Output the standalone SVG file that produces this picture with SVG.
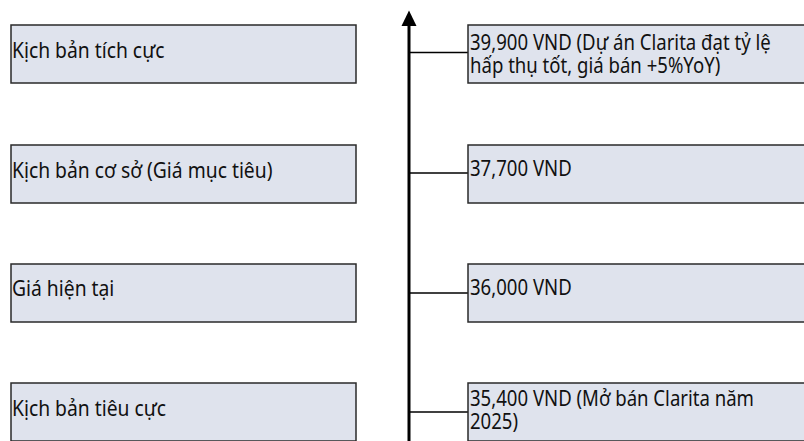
<svg xmlns="http://www.w3.org/2000/svg" width="804" height="441" viewBox="0 0 804 441">
<defs>
<style>
.box{fill:#dfe3ed;stroke:#2a2a2a;stroke-width:1.5}
.t{font-family:"Noto Sans","Open Sans",sans-serif;fill:#111}
.tl{font-size:22px}
.tr{font-size:21px}
.c{stroke:#000;stroke-width:1.5;fill:none}
.ax{stroke:#000;stroke-width:3;fill:none}
</style>
</defs>
<rect width="804" height="441" fill="#fff"/>
<g id="connectors">
<line class="ax" x1="409" y1="441" x2="409" y2="24"/>
<polygon points="409,10.5 401.5,26 416.5,26" fill="#000"/>
<line class="c" x1="409" y1="52.5" x2="468" y2="52.5"/>
<line class="c" x1="409" y1="173" x2="468" y2="173"/>
<line class="c" x1="409" y1="293" x2="468" y2="293"/>
<line class="c" x1="409" y1="412" x2="468" y2="412"/>
</g>
<g id="l1"><rect class="box" x="11" y="25" width="345" height="58"/><text class="t tl" transform="translate(12,58) scale(0.877,1)">Kịch bản tích cực</text></g>
<g id="l2"><rect class="box" x="11" y="145" width="345" height="58"/><text class="t tl" transform="translate(12,178) scale(0.877,1)">Kịch bản cơ sở (Giá mục tiêu)</text></g>
<g id="l3"><rect class="box" x="11" y="264" width="345" height="58"/><text class="t tl" transform="translate(12,296) scale(0.877,1)">Giá hiện tại</text></g>
<g id="l4"><rect class="box" x="11" y="383" width="345" height="58"/><text class="t tl" transform="translate(12,416) scale(0.877,1)">Kịch bản tiêu cực</text></g>
<g id="r1"><rect class="box" x="468" y="25" width="345" height="58"/><text class="t tr" transform="translate(470,50) scale(0.885,1)">39,900 VND (Dự án Clarita đạt tỷ lệ</text><text class="t tr" transform="translate(470,73) scale(0.885,1)">hấp thụ tốt, giá bán +5%YoY)</text></g>
<g id="r2"><rect class="box" x="468" y="145" width="345" height="58"/><text class="t tr" transform="translate(470,176) scale(0.885,1)">37,700 VND</text></g>
<g id="r3"><rect class="box" x="468" y="264" width="345" height="58"/><text class="t tr" transform="translate(470,295) scale(0.885,1)">36,000 VND</text></g>
<g id="r4"><rect class="box" x="468" y="383" width="345" height="58"/><text class="t tr" transform="translate(470,406) scale(0.885,1)">35,400 VND (Mở bán Clarita năm</text><text class="t tr" transform="translate(470,429) scale(0.885,1)">2025)</text></g>
</svg>
